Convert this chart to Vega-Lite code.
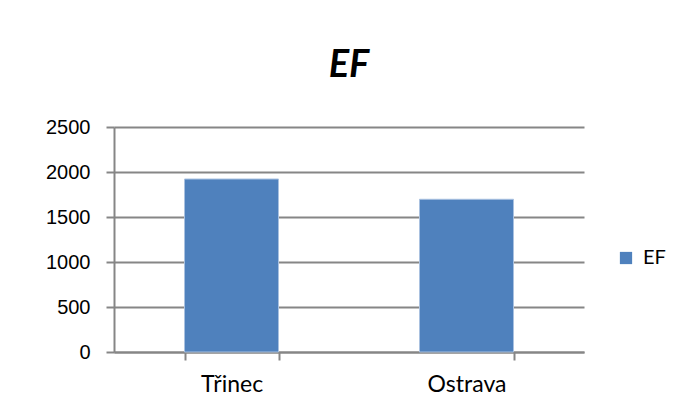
{
  "$schema": "https://vega.github.io/schema/vega-lite/v6.json",
  "autosize": "none",
  "width": 470,
  "height": 225,
  "padding": {"left": 114, "top": 127, "right": 96, "bottom": 61},
  "background": "white",
  "title": {
    "text": "EF",
    "font": "Lato",
    "fontSize": 38,
    "fontWeight": "bold",
    "fontStyle": "italic",
    "color": "black",
    "anchor": "middle",
    "baseline": "alphabetic",
    "offset": 2
  },
  "data": {
    "values": [
      {"city": "Třinec", "value": 1922, "series": "EF"},
      {"city": "Ostrava", "value": 1697, "series": "EF"}
    ]
  },
  "mark": {"type": "bar", "stroke": "#a9c1e0", "strokeWidth": 1},
  "encoding": {
    "x": {
      "field": "city",
      "type": "nominal",
      "sort": null,
      "scale": {"paddingInner": 0.6, "paddingOuter": 0.3},
      "axis": {
        "title": null,
        "labelAngle": 0,
        "labelFont": "Lato",
        "labelFontSize": 23,
        "labelColor": "black",
        "labelPadding": 13,
        "tickBand": "extent",
        "tickSize": 8,
        "tickColor": "#868686",
        "tickWidth": 2,
        "domainColor": "#868686",
        "domainWidth": 2,
        "grid": false
      }
    },
    "y": {
      "field": "value",
      "type": "quantitative",
      "scale": {"domain": [0, 2500], "nice": false},
      "axis": {
        "title": null,
        "values": [0, 500, 1000, 1500, 2000, 2500],
        "format": "d",
        "labelFont": "Liberation Sans",
        "labelFontSize": 20,
        "labelColor": "black",
        "labelPadding": 16,
        "tickSize": 8,
        "tickColor": "#868686",
        "tickWidth": 2,
        "domainColor": "#868686",
        "domainWidth": 2,
        "gridColor": "#868686",
        "gridWidth": 2
      }
    },
    "color": {
      "field": "series",
      "type": "nominal",
      "scale": {"range": ["#4F81BD"]},
      "legend": {
        "title": null,
        "orient": "none",
        "legendX": 502,
        "legendY": 121,
        "symbolType": "square",
        "symbolSize": 150,
        "symbolStrokeWidth": 0,
        "labelFont": "Lato",
        "labelFontSize": 20,
        "labelColor": "black",
        "labelOffset": 7
      }
    }
  },
  "config": {"view": {"stroke": null}}
}
